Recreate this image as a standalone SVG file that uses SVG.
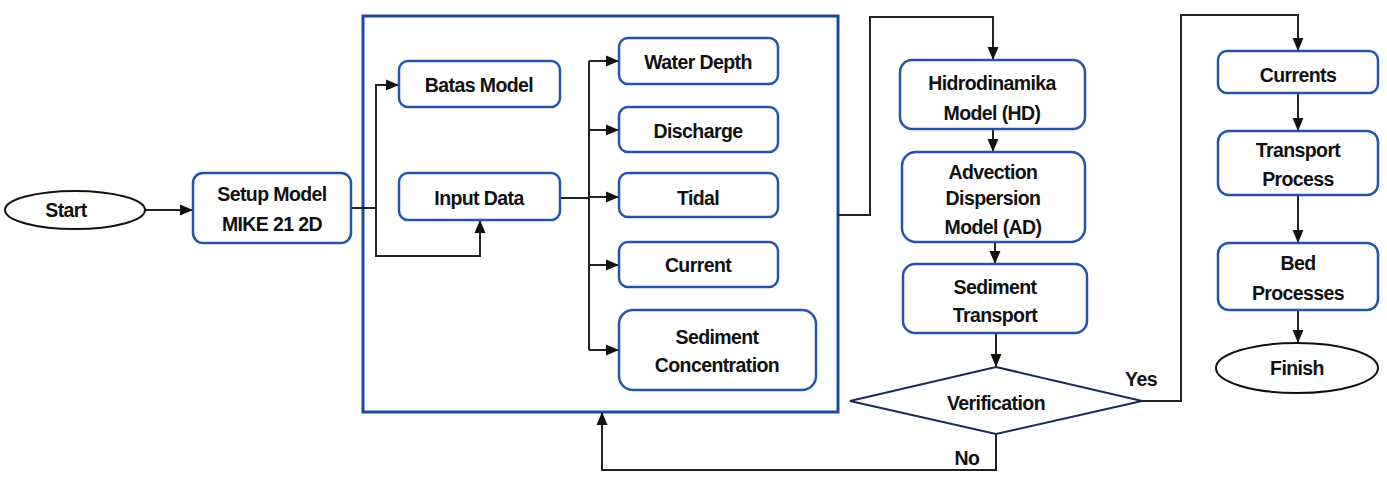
<svg xmlns="http://www.w3.org/2000/svg" width="1387" height="481" viewBox="0 0 1387 481">
<style>
.box{fill:#fff;stroke:#2356a8;stroke-width:2.5}
.frame{fill:#fff;stroke:#1d4b9b;stroke-width:3}
.term{fill:#fff;stroke:#111;stroke-width:2}
.dia{fill:#fff;stroke:#1a2a5a;stroke-width:2}
.ln{fill:none;stroke:#222;stroke-width:2}
text{font-family:"Liberation Sans",Arial,sans-serif;font-size:19.5px;font-weight:bold;fill:#111;text-anchor:middle;letter-spacing:-0.6px}
</style>
<defs>
<marker id="ah" markerUnits="userSpaceOnUse" markerWidth="13" markerHeight="13" viewBox="0 0 13 13" refX="12" refY="6.5" orient="auto">
<path d="M0,1 L13,6.5 L0,12 Z" fill="#111"/>
</marker>
</defs>
<rect width="1387" height="481" fill="#fff"/>
<g id="frame"><rect class="frame" x="363" y="16" width="475" height="396"/></g>
<g id="connectors">
<line class="ln" x1="145" y1="210" x2="192" y2="210" marker-end="url(#ah)"/>
<polyline class="ln" points="351,208 376,208"/>
<polyline class="ln" points="376,256 376,85 398,85" marker-end="url(#ah)"/>
<polyline class="ln" points="376,208 376,256 480,256 480,221" marker-end="url(#ah)"/>
<polyline class="ln" points="560,198 589,198"/>
<line class="ln" x1="589" y1="61" x2="589" y2="350"/>
<line class="ln" x1="589" y1="61" x2="618" y2="61" marker-end="url(#ah)"/>
<line class="ln" x1="589" y1="130" x2="618" y2="130" marker-end="url(#ah)"/>
<line class="ln" x1="589" y1="197" x2="618" y2="197" marker-end="url(#ah)"/>
<line class="ln" x1="589" y1="265" x2="618" y2="265" marker-end="url(#ah)"/>
<line class="ln" x1="589" y1="350" x2="618" y2="350" marker-end="url(#ah)"/>
<polyline class="ln" points="838,215 870,215 870,17 993,17 993,59" marker-end="url(#ah)"/>
<line class="ln" x1="993" y1="129" x2="993" y2="151" marker-end="url(#ah)"/>
<line class="ln" x1="995" y1="242" x2="995" y2="263" marker-end="url(#ah)"/>
<line class="ln" x1="996" y1="333" x2="996" y2="366" marker-end="url(#ah)"/>
<polyline class="ln" points="1142,401 1181,401 1181,15 1298,15 1298,50" marker-end="url(#ah)"/>
<polyline class="ln" points="996,433 996,470 602,470 602,413" marker-end="url(#ah)"/>
<line class="ln" x1="1298" y1="93" x2="1298" y2="130" marker-end="url(#ah)"/>
<line class="ln" x1="1298" y1="195" x2="1298" y2="242" marker-end="url(#ah)"/>
<line class="ln" x1="1298" y1="310" x2="1298" y2="342" marker-end="url(#ah)"/>
<text x="1141" y="386">Yes</text>
<text x="967" y="465">No</text>
</g>
<g id="start"><ellipse class="term" cx="75" cy="210" rx="70" ry="19"/><text x="66" y="217">Start</text></g>
<g id="setup"><rect class="box" x="193" y="173" width="158" height="70" rx="10"/><text x="272" y="201">Setup Model</text><text x="272" y="231">MIKE 21 2D</text></g>
<g id="batas"><rect class="box" x="399" y="61" width="161" height="46" rx="9"/><text x="479" y="92">Batas Model</text></g>
<g id="input"><rect class="box" x="399" y="173" width="161" height="47" rx="9"/><text x="479" y="205">Input Data</text></g>
<g id="waterdepth"><rect class="box" x="619" y="38" width="159" height="46" rx="9"/><text x="698" y="69">Water Depth</text></g>
<g id="discharge"><rect class="box" x="619" y="107" width="159" height="45" rx="9"/><text x="698" y="138">Discharge</text></g>
<g id="tidal"><rect class="box" x="619" y="173" width="159" height="44" rx="9"/><text x="698" y="205">Tidal</text></g>
<g id="current"><rect class="box" x="619" y="242" width="159" height="45" rx="9"/><text x="698" y="272">Current</text></g>
<g id="sedconc"><rect class="box" x="619" y="310" width="197" height="80" rx="14"/><text x="717" y="344">Sediment</text><text x="717" y="372">Concentration</text></g>
<g id="hd"><rect class="box" x="900" y="60" width="185" height="69" rx="12"/><text x="992" y="90">Hidrodinamika</text><text x="992" y="120">Model (HD)</text></g>
<g id="ad"><rect class="box" x="902" y="152" width="183" height="90" rx="14"/><text x="993" y="179">Advection</text><text x="993" y="205">Dispersion</text><text x="993" y="234">Model (AD)</text></g>
<g id="sedtrans"><rect class="box" x="903" y="264" width="184" height="69" rx="12"/><text x="995" y="294">Sediment</text><text x="995" y="322">Transport</text></g>
<g id="verification"><polygon class="dia" points="996,367 1142,401 996,434 850,401"/><text x="996" y="410">Verification</text></g>
<g id="currents"><rect class="box" x="1218" y="51" width="160" height="42" rx="9"/><text x="1298" y="82">Currents</text></g>
<g id="transport"><rect class="box" x="1218" y="131" width="160" height="64" rx="11"/><text x="1298" y="157">Transport</text><text x="1298" y="186">Process</text></g>
<g id="bed"><rect class="box" x="1218" y="243" width="160" height="67" rx="11"/><text x="1298" y="270">Bed</text><text x="1298" y="300">Processes</text></g>
<g id="finish"><ellipse class="term" cx="1297" cy="368" rx="81" ry="25"/><text x="1297" y="375">Finish</text></g>
</svg>
